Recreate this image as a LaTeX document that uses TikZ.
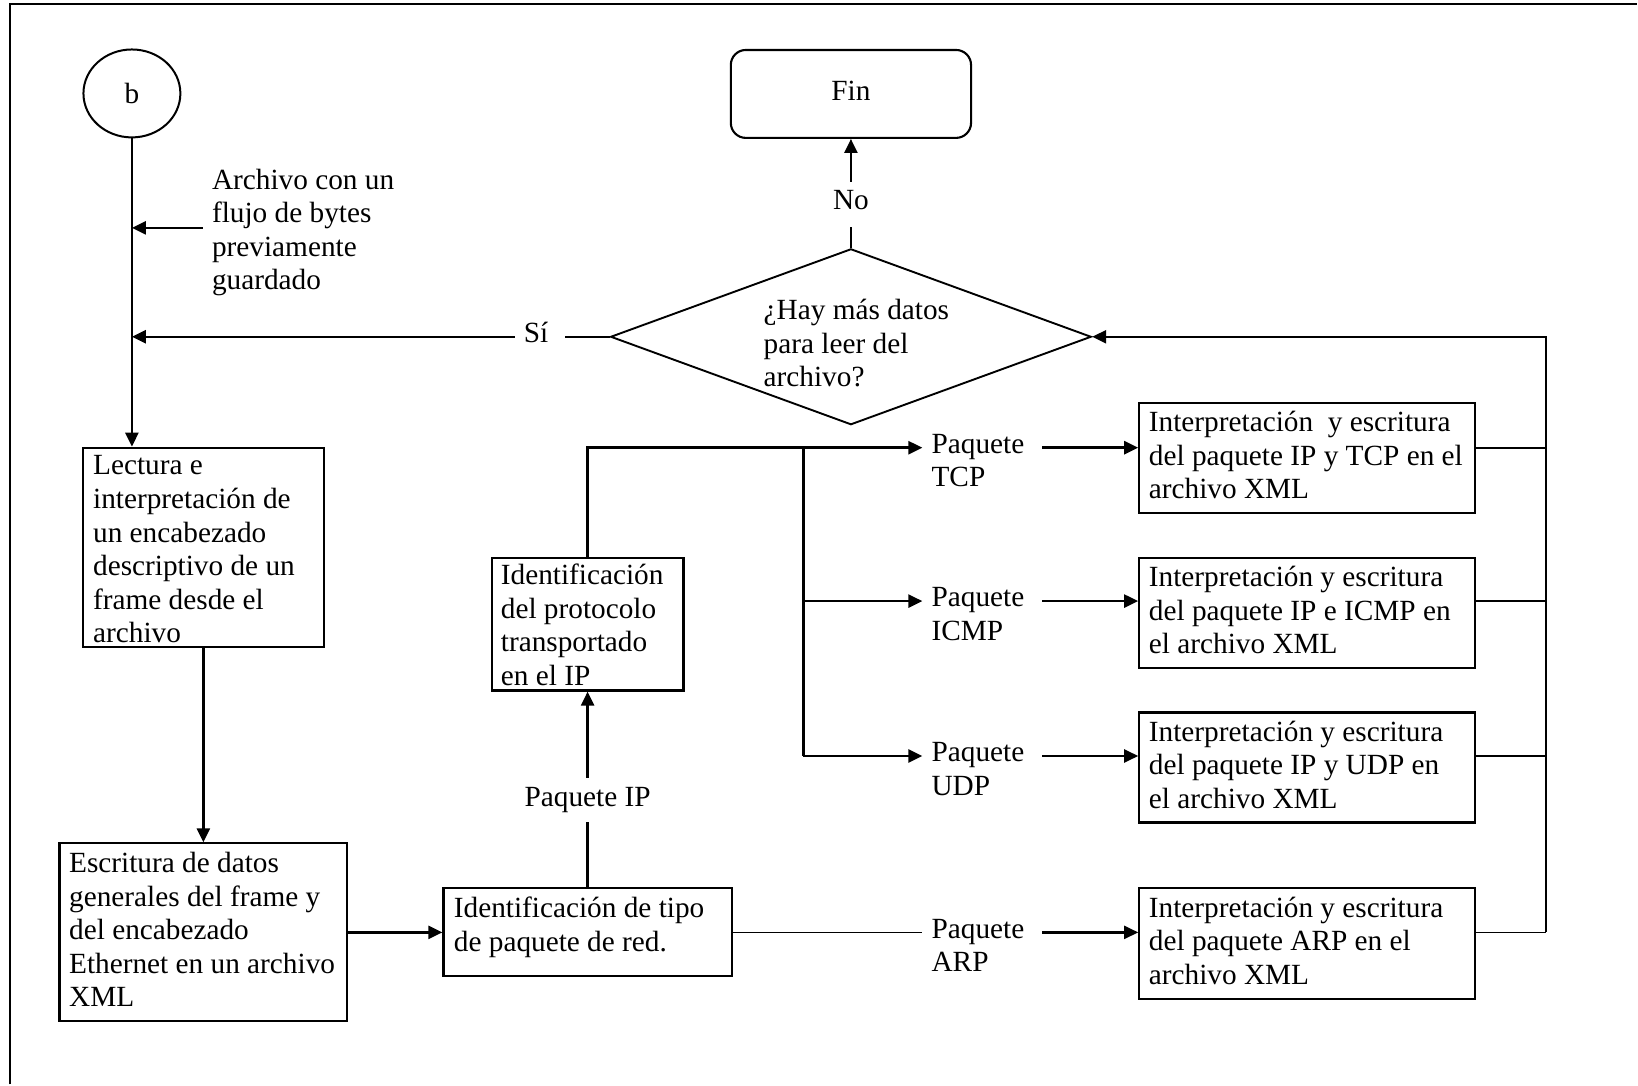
\documentclass[tikz,border=0pt]{standalone}
\usepackage{fontspec}
\setmainfont{Liberation Serif}
\usetikzlibrary{arrows.meta,shapes.geometric}
\newcommand\dgfont{\fontsize{29.3}{33.6}\selectfont}
\def\asc{23.52}% strut height above the first baseline
\begin{document}
\begin{tikzpicture}[x=1pt,y=-1pt,
  every node/.style={font=\dgfont},
  box/.style={draw,line width=2.1pt,rectangle,inner sep=0pt},
  txt/.style={anchor=north west,inner sep=0pt,align=left},
  conn/.style={line width=2.5pt},
  thinln/.style={line width=1.7pt},
  arr/.style={-{Triangle[length=14pt,width=13pt]}},
  ]
% page and outer frame
\path[fill=white] (0,0) rectangle (1638,1085);
\draw[line width=2.2pt] (10,1085) -- (10,4) -- (1638,4);

% connector start and end symbols
\node[draw,ellipse,line width=2pt,minimum width=97,minimum height=88,inner sep=0pt] (b) at (132,93.5) {b};
\node[box,rounded corners=15pt,minimum width=240.4,minimum height=88,text height=19.4pt,text depth=6.4pt] (fin) at (851.5,94) {Fin};

% decision
\node[draw,diamond,line width=1.9pt,minimum width=481,minimum height=176,inner sep=0pt] (dia) at (851.5,337) {};
\node[txt] (tdia) at (764,319.5-\asc) {\strut ¿Hay más datos\\para leer del\\archivo?};

% input note
\node[txt] (tarc) at (212,189-\asc) {\strut Archivo con un\\flujo de bytes\\previamente\\guardado};
\coordinate (arcin) at (203,228);

% process boxes
\node[box,minimum width=241,minimum height=199] (lect) at (203.5,547.5) {};
\node[txt] at (93,475-\asc) {\strut Lectura e\\interpretación de\\un encabezado\\descriptivo de un\\frame desde el\\archivo};

\node[box,minimum width=288,minimum height=178] (escr) at (203.5,933) {};
\node[txt] at (69,873-\asc) {\strut Escritura de datos\\generales del frame y\\del encabezado\\Ethernet en un archivo\\XML};

\node[box,minimum width=288.5,minimum height=88] (tipo) at (588,933) {};
\node[txt] at (454,918-\asc) {\strut Identificación de tipo\\de paquete de red.};

\node[box,minimum width=192,minimum height=133] (prot) at (588,624.5) {};
\node[txt] at (501,585-\asc) {\strut Identificación\\del protocolo\\transportado\\en el IP};

\node[box,minimum width=336,minimum height=110] (btcp) at (1308,458) {};
\node[txt] at (1149.5,431.7-\asc) {\strut Interpretación~ y escritura\\del paquete IP y TCP en el\\archivo XML};

\node[box,minimum width=336,minimum height=110] (bicmp) at (1308,613) {};
\node[txt] at (1149.5,586.7-\asc) {\strut Interpretación y escritura\\del paquete IP e ICMP en\\el archivo XML};

\node[box,minimum width=336,minimum height=110] (budp) at (1308,768) {};
\node[txt] at (1149.5,741.7-\asc) {\strut Interpretación y escritura\\del paquete IP y UDP en\\el archivo XML};

\node[box,minimum width=336,minimum height=111] (barp) at (1308,944.5) {};
\node[txt] at (1149.5,917.7-\asc) {\strut Interpretación y escritura\\del paquete ARP en el\\archivo XML};

% connector labels
\node[inner sep=0pt,anchor=base west] (si) at (524,343) {Sí};
\node[inner sep=0pt,anchor=base] (no) at (851.5,210) {No};
\node[inner sep=0pt,outer ysep=9.6pt,anchor=base] (pip) at (588,807) {Paquete IP};
\node[txt] (ltcp) at (932,453.5-\asc) {\strut Paquete\\TCP};
\node[txt] (licmp) at (932,607-\asc) {\strut Paquete\\ICMP};
\node[txt] (ludp) at (932,762-\asc) {\strut Paquete\\UDP};
\node[txt] (larp) at (932,938.5-\asc) {\strut Paquete\\ARP};

% branch points and return bus
\coordinate (jt) at (804,448);
\coordinate (ji) at (804,601.5);
\coordinate (ju) at (804,756.5);
\coordinate (bus) at (1547,337);

% main flow
\draw[conn,arr] (b.south) -- (b.south |- lect.north);
\draw[conn,arr] (arcin) -- (arcin -| b.south);
\draw[conn] (dia.west) -- ([xshift=17]si.east |- dia.west);
\draw[conn,arr] ([xshift=-9]si.west |- dia.west) -- (b.south |- dia.west);
\draw[conn] (dia.north) -- ([yshift=-17]no.south);
\draw[conn,arr] ([yshift=8.6]no.north) -- (fin.south);
\draw[conn,arr] (lect.south) -- (escr.north);
\draw[conn,arr] (escr.east) -- (escr.east -| tipo.west);
\draw[conn] (tipo.north) -- (pip.south);
\draw[conn,arr] (pip.north) -- (prot.south);

% protocol branches
\draw[conn,arr] (prot.north) |- ([xshift=-9]ltcp.west |- jt);
\draw[conn] (jt) -- (ju);
\draw[conn,arr] (ji) -- ([xshift=-9]licmp.west |- ji);
\draw[conn,arr] (ju) -- ([xshift=-9]ludp.west |- ju);
\draw[thinln] (tipo.east) -- ([xshift=-9]larp.west |- tipo.east);

\draw[conn,arr] ([xshift=18]ltcp.east |- jt) -- (btcp.west |- jt);
\draw[conn,arr] ([xshift=18]licmp.east |- ji) -- (bicmp.west |- ji);
\draw[conn,arr] ([xshift=18]ludp.east |- ju) -- (budp.west |- ju);
\draw[conn,arr] ([xshift=18]larp.east |- tipo.east) -- (barp.west |- tipo.east);

% back to the decision
\draw[thinln] (btcp.east |- jt) -- (bus |- jt);
\draw[thinln] (bicmp.east |- ji) -- (bus |- ji);
\draw[thinln] (budp.east |- ju) -- (bus |- ju);
\draw[thinln] (barp.east |- tipo.east) -- (bus |- tipo.east);
\draw[conn,arr] (bus |- tipo.east) -- (bus) -- (dia.east);
\end{tikzpicture}
\end{document}
